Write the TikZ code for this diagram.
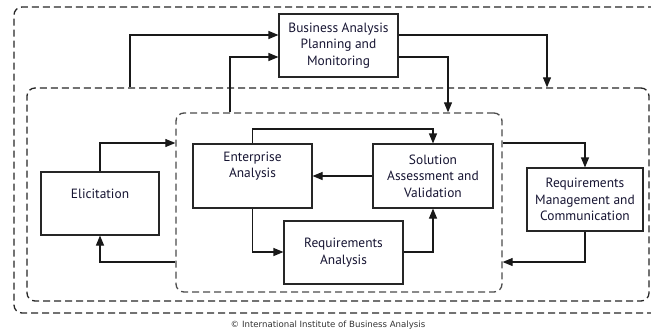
\documentclass[tikz,border=0pt]{standalone}
\usepackage{fontspec}
\setmainfont{PT Sans}
\newfontfamily\copyfont{DejaVu Sans}
\usetikzlibrary{arrows.meta,calc}
\definecolor{txt}{RGB}{22,20,50}
\tikzset{
  box/.style={draw=black!85, line width=1.1bp, fill=white, align=center, inner sep=0pt,
    font=\fontsize{13.4bp}{16.6bp}\selectfont, text=txt},
  zone/.style={draw=black!85, line width=1.3bp, dash pattern=on 7bp off 4bp, rounded corners=8bp, inner sep=0pt},
  innerzone/.style={zone, draw=black!70},
  arr/.style={line width=1.1bp, draw=black!90, -{Triangle[length=10bp,width=8bp]}},
}
\begin{document}
\begin{tikzpicture}[x=1bp,y=-1bp]
\useasboundingbox (0,0) rectangle (651,335);
\clip (0,0) rectangle (651,335);
% containers
\node[zone, minimum width=660bp, minimum height=306bp] (outer) at (344,160) {};
\node[zone, minimum width=622bp, minimum height=213bp] (mid) at (338,194.5) {};
\node[innerzone, minimum width=326bp, minimum height=179bp] (inner) at (339,202.5) {};
% boxes
\node[box, minimum width=119bp, minimum height=63bp] (bapm) at (338.5,45.5) {Business Analysis\\Planning and\\Monitoring};
\node[box, minimum width=119bp, minimum height=64bp] (ea) at (252.5,176) {Enterprise\\Analysis\\[6bp]};
\node[box, minimum width=120bp, minimum height=64bp] (sav) at (433,176) {Solution\\Assessment and\\Validation};
\node[box, minimum width=119bp, minimum height=63bp] (ra) at (343.5,252.5) {Requirements\\Analysis};
\node[box, minimum width=118bp, minimum height=63bp] (elic) at (100,203.5) {Elicitation\\[3bp]};
\node[box, minimum width=116bp, minimum height=63bp] (rmc) at (585,199.5) {Requirements\\Management and\\Communication};
% helper coordinates
\coordinate (xa) at (130,35);
\coordinate (xb) at (230,57);
\coordinate (xc) at (547,35);
\coordinate (xd) at (448,57);
\coordinate (ye) at (0,129);
\coordinate (yr) at (0,252);
\coordinate (yt) at (0,143);
\coordinate (yb) at (0,262);
% BAPM connectors
\draw[arr] (mid.north -| xa) |- (bapm.west |- xa);
\draw[arr] (inner.north -| xb) |- (bapm.west |- xb);
\draw[arr] (bapm.east |- xc) -| (mid.north -| xc);
\draw[arr] (bapm.east |- xd) -| (inner.north -| xd);
% inner connectors
\draw[arr] (ea.north) |- (ye -| sav.north) -- (sav.north);
\draw[arr] (sav.west) -- (ea.east);
\draw[arr] (ea.south) |- (ra.west |- yr);
\draw[arr] (ra.east |- yr) -| (sav.south);
% elicitation
\draw[arr] (elic.north) |- (inner.west |- yt);
\draw[arr] (inner.west |- yb) -| (elic.south);
% RMC
\draw[arr] (inner.east |- yt) -| (rmc.north);
\draw[arr] (rmc.south) |- (inner.east |- yb);
% copyright
\node[font=\copyfont\fontsize{8.6bp}{10bp}\selectfont, text=black!80, inner sep=0pt] (copy) at (328,325) {© International Institute of Business Analysis};
\end{tikzpicture}
\end{document}
